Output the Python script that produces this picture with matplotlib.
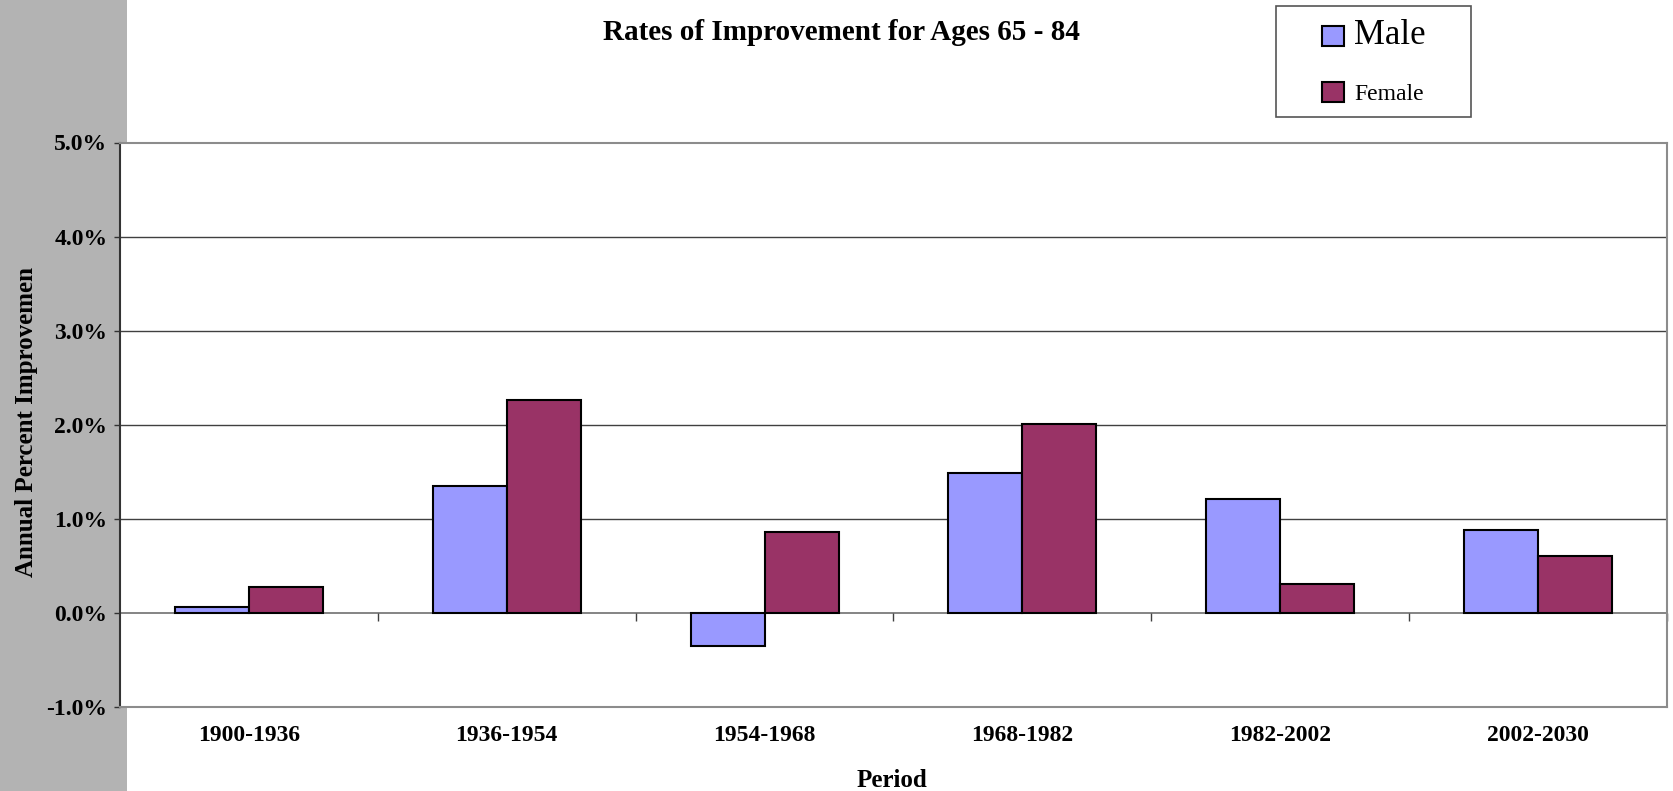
import matplotlib
matplotlib.use("Agg")
import matplotlib.pyplot as plt
from matplotlib import markers
from matplotlib.patches import Rectangle
from matplotlib.ticker import FuncFormatter
import numpy as np

periods = ["1900-1936", "1936-1954", "1954-1968", "1968-1982", "1982-2002", "2002-2030"]
male = [0.06, 1.35, -0.35, 1.49, 1.21, 0.88]
female = [0.28, 2.26, 0.86, 2.01, 0.31, 0.60]
yticks = [-1, 0, 1, 2, 3, 4, 5]

W, H = 1674, 791
plt.rcParams["font.family"] = ["Liberation Serif", "DejaVu Serif"]

fig = plt.figure(figsize=(W / 100, H / 100), dpi=100)
fig.patch.set_facecolor("white")
fig.patches.append(Rectangle((0, 0), 127 / W, 1, transform=fig.transFigure,
                             facecolor="#b3b3b3", edgecolor="none", zorder=0))

ax = fig.add_axes([120 / W, 84 / H, 1547 / W, 564.5 / H])
ax.set_facecolor("white")
ax.set_zorder(1)

x = np.arange(len(periods))
w = 0.287
bm = ax.bar(x - w / 2, male, w, color="#9999ff", edgecolor="black", linewidth=1.5, zorder=3, label="Male")
bf = ax.bar(x + w / 2, female, w, color="#993366", edgecolor="black", linewidth=1.5, zorder=3, label="Female")

ax.set_xlim(-0.5, len(periods) - 0.5)
ax.set_ylim(yticks[0], yticks[-1])
ax.set_yticks(yticks)
ax.yaxis.set_major_formatter(FuncFormatter(lambda v, p: f"{v:.1f}%"))
for v in yticks[2:-1]:
    ax.axhline(v, color="#404040", linewidth=1, zorder=1)
ax.axhline(0, color="#707070", linewidth=1.2, zorder=2)

# category separators on the zero line
bounds = np.arange(len(periods)) + 0.5
ax.plot(bounds, np.zeros_like(bounds), ls="none", marker=markers.TICKDOWN,
        ms=6, mew=1, color="#404040", zorder=2, clip_on=False)

ax.set_xticks(x)
ax.set_xticklabels(periods)
ax.tick_params(axis="x", length=0, pad=13, labelsize=17)
ax.tick_params(axis="y", direction="out", length=4, width=1, pad=5, labelsize=17, color="#333333")
for lab in ax.get_xticklabels() + ax.get_yticklabels():
    lab.set_fontweight("bold")

for side in ["top", "right", "bottom"]:
    ax.spines[side].set_color("#8c8c8c")
    ax.spines[side].set_linewidth(1.5)
ax.spines["left"].set_color("#333333")
ax.spines["left"].set_linewidth(1.5)

fig.text(841 / W, 1 - 40 / H, "Rates of Improvement for Ages 65 - 84",
         ha="center", va="baseline", fontsize=21, fontweight="bold")
fig.text(27 / W, 1 - 422 / H, "Annual Percent Improvemen", rotation=90,
         ha="center", va="center", fontsize=18, fontweight="bold")
fig.text(892 / W, 1 - 787 / H, "Period", ha="center", va="baseline",
         fontsize=18, fontweight="bold")

# legend box
fig.patches.append(Rectangle((1276 / W, 1 - 117 / H), 195 / W, 111 / H, transform=fig.transFigure,
                             facecolor="white", edgecolor="#555555", linewidth=1.2, zorder=2))
leg = fig.legend(handles=[bm, bf], loc="center", bbox_to_anchor=(1374 / W, 1 - 62 / H),
                 frameon=False, fontsize=17, handlelength=0.93, handleheight=0.93,
                 handletextpad=0.45, labelspacing=1.26, borderpad=0)
leg.set_zorder(3)
leg.get_texts()[0].set_fontsize(25)

fig.savefig("out.png", dpi=100)
